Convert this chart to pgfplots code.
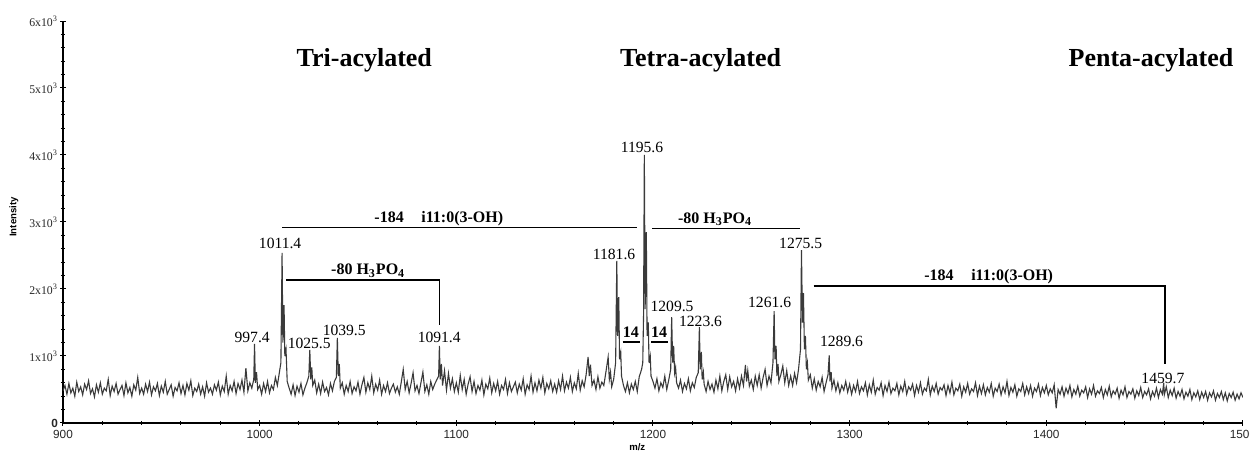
\documentclass[border=0pt]{standalone}
\usepackage{pgfplots}
\pgfplotsset{compat=1.18}
\usepackage{fontspec}
\setmainfont{Liberation Serif}
\setsansfont{Liberation Sans}
\definecolor{spec}{RGB}{58,58,58}
\newcommand{\pk}{\fontsize{7.8}{9}\selectfont}
\newcommand{\bl}{\fontsize{8}{9.5}\selectfont\bfseries}
\newcommand{\ttl}{\fontsize{13}{15}\selectfont\bfseries}
\begin{document}
\begin{tikzpicture}
\begin{axis}[
  scale only axis, width=590pt, height=201pt,
  xmin=900, xmax=1500, ymin=0, ymax=6000,
  axis lines=left, axis line style={-, line width=0.6pt, black},
  clip mode=individual,
  xtick={900,1000,1100,1200,1300,1400,1500},
  xticklabels={900,1000,1100,1200,1300,1400,1500},
  ytick={0,1000,2000,3000,4000,5000,6000},
  yticklabels={\sffamily\bfseries 0,1x10\textsuperscript{3},2x10\textsuperscript{3},3x10\textsuperscript{3},4x10\textsuperscript{3},5x10\textsuperscript{3},6x10\textsuperscript{3}},
  minor tick num=4,
  tick align=center,
  major tick length=2.6pt, minor tick length=2pt,
  tick style={line width=0.5pt, black},
  xticklabel style={font=\sffamily\fontsize{5.9}{6.5}\selectfont, inner sep=1pt, yshift=-1pt, text=black!85},
  yticklabel style={font=\fontsize{5.9}{6.5}\selectfont, inner sep=1pt, text=black!85},
]
\addplot[spec, line width=0.55pt] coordinates {
(900,480)(901,560)(902,430)(903,590)(904,450)(905,520)(906,400)(907,610)(908,470)(909,540)
(910,420)(911,580)(912,500)(913,630)(914,440)(915,510)(916,390)(917,570)(918,460)(919,600)
(920,430)(921,520)(922,480)(923,650)(924,410)(925,550)(926,470)(927,590)(928,430)(929,500)
(930,560)(931,410)(932,600)(933,450)(934,530)(935,400)(936,570)(937,490)(938,680)(939,440)
(940,520)(941,430)(942,580)(943,470)(944,610)(945,420)(946,540)(947,480)(948,590)(949,410)
(950,550)(951,460)(952,620)(953,430)(954,500)(955,570)(956,400)(957,530)(958,480)(959,600)
(960,440)(961,560)(962,420)(963,590)(964,490)(965,630)(966,410)(967,520)(968,470)(969,580)
(970,430)(971,540)(972,400)(973,600)(974,460)(975,520)(976,430)(977,570)(978,490)(979,610)
(980,420)(981,550)(982,470)(983,700)(984,430)(985,560)(986,480)(987,620)(988,440)(989,590)
(990,500)(991,640)(992,460)(993,820)(994,480)(995,600)(996,520)(997,650)(997.4,1180)(997.8,600)(998.4,760)(999,500)
(1000,560)(1001,430)(1002,590)(1003,470)(1004,620)(1005,450)(1006,560)(1007,500)(1008,680)(1009,560)
(1010,750)(1010.8,900)(1011.4,2540)(1011.8,1200)(1012.4,1760)(1012.8,1000)(1013.4,1100)(1014,620)(1015,520)(1016,430)(1017,570)(1018,410)(1019,550)
(1020,460)(1021,590)(1022,420)(1023,520)(1024,600)(1025,700)(1025.5,1090)(1026,650)(1026.5,830)(1027,560)(1028,640)(1029,450)
(1030,580)(1031,440)(1032,610)(1033,470)(1034,530)(1035,420)(1036,590)(1037,480)(1038,620)(1039,680)(1039.5,1270)(1040,700)(1040.5,880)(1041,520)(1042,600)(1043,430)(1044,560)(1045,470)(1046,620)(1047,440)(1048,540)(1049,480)
(1050,610)(1051,430)(1052,570)(1053,680)(1054,460)(1055,600)(1056,500)(1057,700)(1058,450)(1059,580)
(1060,490)(1061,640)(1062,430)(1063,560)(1064,470)(1065,600)(1066,440)(1067,520)(1068,580)(1069,460)
(1070,540)(1071,430)(1072,610)(1073,800)(1074,500)(1075,620)(1076,450)(1077,590)(1078,750)(1079,480)
(1080,560)(1081,440)(1082,600)(1083,760)(1084,470)(1085,570)(1086,430)(1087,620)(1088,500)(1089,580)
(1090,640)(1091,700)(1091.4,1150)(1091.8,650)(1092.4,880)(1093,560)(1094,780)(1095,490)(1096,740)(1097,520)(1098,660)(1099,470)
(1100,600)(1101,460)(1102,710)(1103,500)(1104,650)(1105,430)(1106,580)(1107,690)(1108,470)(1109,620)
(1110,440)(1111,560)(1112,490)(1113,640)(1114,420)(1115,580)(1116,510)(1117,670)(1118,450)(1119,590)
(1120,480)(1121,620)(1122,430)(1123,560)(1124,500)(1125,650)(1126,440)(1127,600)(1128,470)(1129,540)
(1130,610)(1131,450)(1132,580)(1133,490)(1134,660)(1135,430)(1136,570)(1137,500)(1138,700)(1139,460)
(1140,600)(1141,480)(1142,640)(1143,520)(1144,680)(1145,450)(1146,590)(1147,510)(1148,630)(1149,470)
(1150,580)(1151,460)(1152,630)(1153,500)(1154,700)(1155,480)(1156,610)(1157,520)(1158,680)(1159,470)
(1160,600)(1161,510)(1162,740)(1163,490)(1164,630)(1165,540)(1166,720)(1167,985)(1167.6,700)(1168.2,870)(1169,560)
(1170,640)(1171,500)(1172,690)(1173,520)(1174,610)(1175,560)(1176,750)(1177.2,985)(1177.8,650)(1178.4,760)(1179,540)
(1180,650)(1181,900)(1181.6,2420)(1182,1300)(1182.6,1880)(1183,950)(1183.6,1050)(1184,700)(1185,560)(1186,470)(1187,600)(1188,450)(1189,580)
(1190,500)(1191,620)(1192,470)(1193,690)(1194.2,800)(1194.8,900)(1195.2,1600)(1195.6,4000)(1196,1700)(1196.6,2850)(1197,1300)(1197.6,1500)(1198,900)(1198.6,1000)(1199,700)
(1200,620)(1201,520)(1202,660)(1203,480)(1204,600)(1205,530)(1206,700)(1207,500)(1208,640)(1209,800)(1209.5,1580)(1210,900)(1210.5,1150)(1211,750)(1211.5,830)(1212,600)(1213,520)(1214,640)(1215,470)(1216,590)(1217,510)(1218,660)(1219,480)
(1220,600)(1221,530)(1222,680)(1223,750)(1223.6,1430)(1224,800)(1224.6,1060)(1225,650)(1225.6,760)(1226,580)(1227,470)(1228,620)(1229,500)
(1230,580)(1231,460)(1232,640)(1233,510)(1234,700)(1235,480)(1236,620)(1237,720)(1238,500)(1239,690)
(1240,540)(1241,620)(1242,480)(1243,660)(1244,520)(1245,700)(1246,560)(1247,865)(1247.6,620)(1248.2,780)(1249,550)
(1250,640)(1251,500)(1252,700)(1253,560)(1254,720)(1255,520)(1256,680)(1257,800)(1258,560)(1259,700)
(1260,600)(1261,900)(1261.6,1670)(1262,950)(1262.6,1150)(1263,700)(1263.6,880)(1264,620)(1265,720)(1266,850)(1267,600)(1268,780)(1269,560)
(1270,700)(1271,560)(1272,740)(1273,600)(1274,800)(1275,1100)(1275.5,2580)(1276,1500)(1276.5,1940)(1277,1100)(1277.5,1300)(1278,800)(1278.5,900)(1279,640)
(1280,720)(1281,520)(1282,660)(1283,490)(1284,620)(1285,540)(1286,680)(1287,470)(1288,600)(1289,720)(1289.6,1010)(1290,620)(1290.6,760)(1291,520)(1292,640)(1293,480)(1294,600)(1295,450)(1296,560)(1297,490)(1298,620)(1299,460)
(1300,580)(1301,430)(1302,560)(1303,470)(1304,620)(1305,440)(1306,540)(1307,480)(1308,600)(1309,420)
(1310,570)(1311,460)(1312,640)(1313,430)(1314,530)(1315,490)(1316,600)(1317,410)(1318,560)(1319,470)
(1320,610)(1321,440)(1322,520)(1323,480)(1324,590)(1325,420)(1326,550)(1327,470)(1328,620)(1329,430)
(1330,540)(1331,490)(1332,580)(1333,410)(1334,560)(1335,460)(1336,600)(1337,430)(1338,520)(1339,480)
(1340,650)(1341,420)(1342,550)(1343,470)(1344,590)(1345,430)(1346,530)(1347,490)(1348,570)(1349,410)
(1350,560)(1351,450)(1352,610)(1353,420)(1354,520)(1355,480)(1356,580)(1357,400)(1358,540)(1359,460)
(1360,590)(1361,430)(1362,510)(1363,470)(1364,600)(1365,410)(1366,550)(1367,440)(1368,570)(1369,420)
(1370,530)(1371,460)(1372,590)(1373,400)(1374,520)(1375,470)(1376,580)(1377,420)(1378,540)(1379,450)
(1380,620)(1381,410)(1382,530)(1383,460)(1384,570)(1385,400)(1386,510)(1387,470)(1388,590)(1389,420)
(1390,540)(1391,440)(1392,560)(1393,400)(1394,520)(1395,470)(1396,580)(1397,410)(1398,530)(1399,450)
(1400,560)(1401,420)(1402,510)(1403,450)(1404,570)(1405,220)(1406,500)(1407,430)(1408,540)(1409,400)
(1410,520)(1411,440)(1412,560)(1413,390)(1414,500)(1415,430)(1416,550)(1417,400)(1418,490)(1419,450)
(1420,540)(1421,380)(1422,510)(1423,430)(1424,560)(1425,400)(1426,480)(1427,440)(1428,530)(1429,380)
(1430,500)(1431,420)(1432,550)(1433,390)(1434,480)(1435,430)(1436,520)(1437,370)(1438,490)(1439,420)
(1440,540)(1441,380)(1442,470)(1443,430)(1444,510)(1445,370)(1446,480)(1447,410)(1448,530)(1449,380)
(1450,470)(1451,420)(1452,510)(1453,360)(1454,470)(1455,400)(1456,520)(1457,380)(1458,500)(1459,430)(1459.7,600)(1460,420)(1461,540)(1462,380)(1463,490)(1464,410)(1465,520)(1466,370)(1467,470)(1468,400)(1469,500)
(1470,360)(1471,460)(1472,400)(1473,500)(1474,350)(1475,450)(1476,390)(1477,480)(1478,350)(1479,460)
(1480,380)(1481,470)(1482,340)(1483,450)(1484,390)(1485,480)(1486,340)(1487,440)(1488,380)(1489,470)
(1490,350)(1491,450)(1492,330)(1493,440)(1494,380)(1495,460)(1496,340)(1497,430)(1498,360)(1499,450)(1500,380)
};
% group titles
\node[font=\ttl] at (axis cs:1053.2,5418) {Tri-acylated};
\node[font=\ttl] at (axis cs:1224.2,5418) {Tetra-acylated};
\node[font=\ttl] at (axis cs:1453.2,5418) {Penta-acylated};
% brackets
\draw[line width=0.7pt] (axis cs:1011.5,2921) -- (axis cs:1192.1,2921);
\node[font=\bl, anchor=base] at (axis cs:1091.1,2990) {-184\hspace{1.1em}i11:0(3-OH)};
\draw[line width=0.7pt] (axis cs:1199.7,2906) -- (axis cs:1275,2906);
\node[font=\bl, anchor=base] at (axis cs:1231.6,2980) {-80 H\textsubscript{3}PO\textsubscript{4}};
\draw[line width=0.7pt] (axis cs:1013.5,2134) -- (axis cs:1091.3,2134) -- (axis cs:1091.3,1460);
\node[font=\bl, anchor=base] at (axis cs:1055.2,2209) {-80 H\textsubscript{3}PO\textsubscript{4}};
\draw[line width=0.7pt] (axis cs:1281.7,2045) -- (axis cs:1460.3,2045) -- (axis cs:1460.3,880);
\node[font=\bl, anchor=base] at (axis cs:1370.7,2124) {-184\hspace{1.1em}i11:0(3-OH)};
\node[font=\bl] at (axis cs:1188.8,1358) {14};
\node[font=\bl] at (axis cs:1203.1,1358) {14};
\draw[line width=0.7pt] (axis cs:1184.5,1209) -- (axis cs:1193.6,1209);
\draw[line width=0.7pt] (axis cs:1199.2,1209) -- (axis cs:1207.4,1209);
% peak labels
\node[font=\pk] at (axis cs:996.2,1284) {997.4};
\node[font=\pk] at (axis cs:1010.4,2687) {1011.4};
\node[font=\pk] at (axis cs:1025.2,1194) {1025.5};
\node[font=\pk] at (axis cs:1043.0,1388) {1039.5};
\node[font=\pk] at (axis cs:1091.3,1284) {1091.4};
\node[font=\pk] at (axis cs:1180.2,2522) {1181.6};
\node[font=\pk] at (axis cs:1194.4,4119) {1195.6};
\node[font=\pk] at (axis cs:1209.7,1746) {1209.5};
\node[font=\pk] at (axis cs:1224.2,1522) {1223.6};
\node[font=\pk] at (axis cs:1259.3,1806) {1261.6};
\node[font=\pk] at (axis cs:1275.1,2687) {1275.5};
\node[font=\pk] at (axis cs:1295.9,1224) {1289.6};
\node[font=\pk] at (axis cs:1459.3,672) {1459.7};
% axis labels
\node[xshift=-24.5pt, rotate=90, font=\sffamily\bfseries\fontsize{4.8}{5}\selectfont] at (axis cs:900,3075) {Intensity};
\node[yshift=-12pt, font=\sffamily\bfseries\fontsize{4.8}{5}\selectfont] at (axis cs:1192,0) {m/z};
\end{axis}
\pgfresetboundingbox
\path[use as bounding box] (-31.5pt,-15.5pt) rectangle (593.5pt,211.5pt);
\end{tikzpicture}
\end{document}
